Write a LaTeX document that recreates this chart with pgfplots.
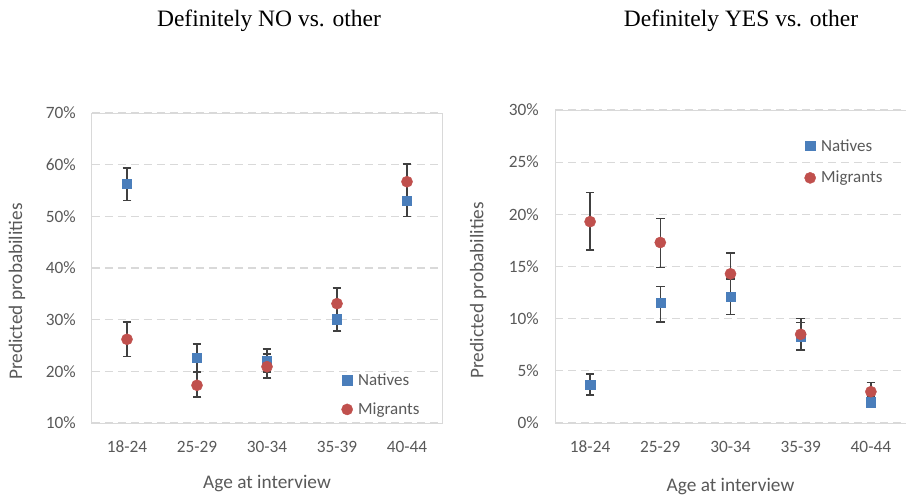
\documentclass[border=0pt]{standalone}
\usepackage{fontspec}
\setmainfont{Carlito}
\newfontfamily\titlefont{Liberation Serif}
\usepackage{pgfplots}
\usepackage{pgfplotstable}
\pgfplotsset{compat=1.18}

\definecolor{natblue}{HTML}{4A7EBB}
\definecolor{migred}{HTML}{C0504D}
\definecolor{txtgray}{HTML}{595959}
\definecolor{gridgray}{HTML}{D9D9D9}
\definecolor{errgray}{HTML}{404040}

% Predicted probabilities (%) with upper/lower error bar lengths
% Definitely NO vs. other
\pgfplotstableread{
x nat natp natm mig migp migm
0 56.3 3.0 3.2 26.2 3.4 3.3
1 22.6 2.7 2.7 17.3 2.5 2.3
2 22.1 2.2 2.2 20.9 2.4 2.2
3 30.1 2.3 2.3 33.1 3.0 3.0
4 53.0 3.0 3.0 56.7 3.4 3.2
}\noTable
% Definitely YES vs. other
\pgfplotstableread{
x nat natp natm mig migp migm
0 3.7 1.0 1.0 19.3 2.8 2.7
1 11.5 1.6 1.8 17.3 2.3 2.4
2 12.1 1.7 1.7 14.3 2.0 2.0
3 8.3 1.35 1.35 8.5 1.5 1.5
4 2.0 0.5 0.5 3.0 0.9 0.9
}\yesTable

\newcommand{\labelfont}{\fontsize{19.3}{23}\selectfont}

\pgfplotsset{
  agestyle/.style={
    scale only axis, anchor=south west,
    xmin=-0.5, xmax=4.5,
    xtick={0,...,4},
    xticklabels={18-24,25-29,30-34,35-39,40-44},
    tick style={draw=none},
    axis line style={gridgray, line width=1pt},
    ymajorgrids,
    grid style={gridgray, line width=1.1pt, dash pattern=on 8pt off 5pt},
    tick label style={font=\fontsize{17.3}{20}\selectfont, text=txtgray},
    xticklabel style={anchor=center, yshift=-24pt, inner sep=0pt},
    yticklabel style={anchor=east, inner sep=0pt, xshift=-16pt},
    xlabel={Age at interview},
    ylabel={Predicted probabilities},
    legend cell align=left,
    legend style={draw=none, fill=none, font=\fontsize{17}{20}\selectfont,
      text=txtgray, inner sep=0pt, outer sep=0pt, column sep=0pt,
      anchor=west, nodes={inner sep=0pt, text=txtgray}},
    legend image code/.code={\path[draw=none, fill=none] (0pt,-6pt) rectangle (16pt,6pt);
      \draw[##1] plot coordinates {(5pt,0pt)};},
  },
  errstyle/.style={only marks, mark=none, forget plot,
    error bars/.cd, y dir=both, y explicit,
    error bar style={errgray, line width=1.6pt},
    error mark options={errgray, rotate=90, mark size=4.3pt, line width=1.6pt}},
  natmarks/.style={only marks, mark=square*, mark size=4.6pt, color=natblue},
  migmarks/.style={only marks, mark=*, mark size=5.6pt, color=migred},
}

\begin{document}
\begin{tikzpicture}
\useasboundingbox (0pt,0pt) rectangle (906pt,499pt);

\node[font=\titlefont\fontsize{23.5}{28}\selectfont, anchor=base]
  at (269pt,472pt) {Definitely NO vs. other};
\node[font=\titlefont\fontsize{23.5}{28}\selectfont, anchor=base]
  at (741pt,472pt) {Definitely YES vs. other};

% Left panel
\begin{axis}[agestyle,
  at={(92pt,76pt)}, width=350pt, height=310pt,
  ymin=10, ymax=70, ytick={10,20,...,70},
  yticklabels={10\%,20\%,30\%,40\%,50\%,60\%,70\%},
  every axis x label/.style={at={(axis description cs:0.5,-0.194)}, anchor=center,
    font=\labelfont, text=txtgray},
  every axis y label/.style={at={(axis description cs:-0.214,0.424)}, rotate=90,
    anchor=center, font=\labelfont, text=txtgray},
  legend style={at={(axis description cs:0.713,0.091)}, row sep=16pt},
]
\addplot[errstyle] table[x=x, y=nat, y error plus=natp, y error minus=natm] {\noTable};
\addplot[errstyle] table[x=x, y=mig, y error plus=migp, y error minus=migm] {\noTable};
\addplot[natmarks] table[x=x, y=nat] {\noTable};
\addlegendentry{Natives}
\addplot[migmarks] table[x=x, y=mig] {\noTable};
\addlegendentry{Migrants}
\end{axis}

% Right panel
\begin{axis}[agestyle,
  at={(555pt,76pt)}, width=351pt, height=313pt,
  ymin=0, ymax=30, ytick={0,5,...,30},
  yticklabels={0\%,5\%,10\%,15\%,20\%,25\%,30\%},
  every axis x label/.style={at={(axis description cs:0.5,-0.204)}, anchor=center,
    font=\labelfont, text=txtgray},
  every axis y label/.style={at={(axis description cs:-0.219,0.424)}, rotate=90,
    anchor=center, font=\labelfont, text=txtgray},
  legend style={at={(axis description cs:0.711,0.834)}, row sep=18.6pt},
]
\addplot[errstyle] table[x=x, y=nat, y error plus=natp, y error minus=natm] {\yesTable};
\addplot[errstyle] table[x=x, y=mig, y error plus=migp, y error minus=migm] {\yesTable};
\addplot[natmarks] table[x=x, y=nat] {\yesTable};
\addlegendentry{Natives}
\addplot[migmarks] table[x=x, y=mig] {\yesTable};
\addlegendentry{Migrants}
\end{axis}
\end{tikzpicture}
\end{document}
